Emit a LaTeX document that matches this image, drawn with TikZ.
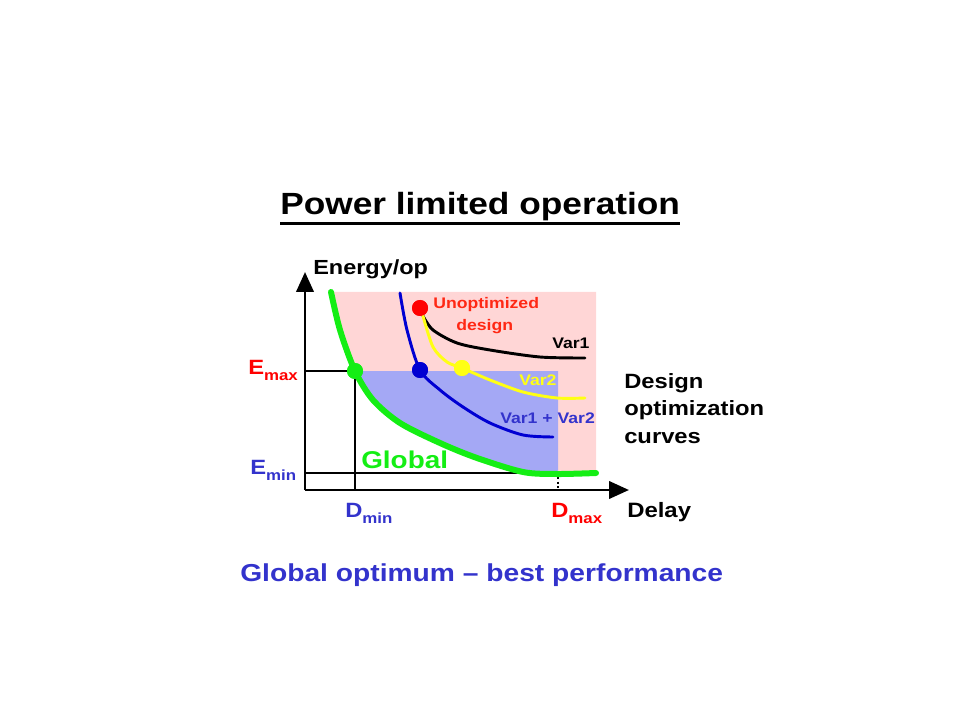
\documentclass[tikz,border=0pt]{standalone}
\usepackage{fontspec}
\setmainfont[FakeStretch=1.15]{Liberation Sans}
\usetikzlibrary{arrows.meta}

\definecolor{pinkarea}{RGB}{255,214,214}
\definecolor{bluearea}{RGB}{164,168,245}
\definecolor{curvegreen}{RGB}{20,238,20}
\definecolor{curveblue}{RGB}{0,0,210}
\definecolor{curveyellow}{RGB}{255,255,20}
\definecolor{textblue}{RGB}{51,51,204}
\definecolor{textred}{RGB}{255,0,0}
\definecolor{textorange}{RGB}{255,40,20}

\newcommand{\lowidx}[1]{\raisebox{-4.5pt}{\fontsize{11}{11}\selectfont #1}}

\begin{document}
\begin{tikzpicture}[x=0.75pt, y=-0.75pt, font=\bfseries,
    lbl/.style={inner sep=0pt, anchor=base west},
    dot/.style={circle, inner sep=0pt, minimum size=12pt},
    guide/.style={line width=1.5pt},
    axis/.style={line width=2.2pt, -{Triangle[length=15pt, width=13pt]}},
    curve/.style={line width=2.2pt, line cap=round}]
    \useasboundingbox (0,0) rectangle (960,720);

    % Title
    \node[lbl, font=\bfseries\fontsize{23}{23}\selectfont] (title) at (280,215) {Power limited operation};
    \draw[line width=2.2pt] ([yshift=-6.7pt]title.base west) -- ([yshift=-6.7pt]title.base east);

    % Regions above the global curve
    \fill[pinkarea] plot[smooth] coordinates {(331,292) (340,330) (355,371) (373,400) (400,423) (440,443) (477,458) (523,472) (557,474) (596,473)} -- (596,292) -- cycle;
    \begin{scope}
        \clip (355,371) rectangle (558,480);
        \fill[bluearea] plot[smooth] coordinates {(331,292) (340,330) (355,371) (373,400) (400,423) (440,443) (477,458) (523,472) (557,474) (596,473)} -- (596,292) -- cycle;
    \end{scope}

    % Axes
    \coordinate (origin) at (305,490);
    \coordinate (ytip) at (305,272);
    \coordinate (xtip) at (629,490);
    \draw[axis] (origin) -- (ytip);
    \draw[axis] (origin) -- (xtip);
    \node[lbl, font=\bfseries\fontsize{15.3}{15.3}\selectfont] (energy) at (313,275) {Energy/op};
    \node[lbl, font=\bfseries\fontsize{15.6}{15.6}\selectfont] (delay) at (627,517) {Delay};

    % Dots
    \foreach \name/\col/\pos in {unopt/textred/{(420,308)}, gdot/curvegreen/{(355,371)},
                                 bdot/curveblue/{(420,370)}, ydot/curveyellow/{(462,368)}} {
        \node[dot, fill=\col] (\name) at \pos {};
    }

    % Limits
    \coordinate (emaxL) at (305,371);
    \coordinate (eminL) at (305,473);
    \coordinate (eminR) at (540,473);
    \coordinate (dminB) at (355,490);
    \coordinate (dmaxT) at (558,477);
    \coordinate (dmaxB) at (558,490);
    \draw[guide] (emaxL) -- (gdot.center);
    \draw[guide] (gdot.center) -- (dminB);
    \draw[guide] (eminL) -- (eminR);
    \draw[guide, dotted] (dmaxT) -- (dmaxB);

    % Design optimization curves
    \draw[curve, black] plot[smooth] coordinates {(423,316) (433,330) (457,343) (490,350) (540,357) (585,358)};
    \draw[curve, curveyellow] plot[smooth] coordinates {(423,316) (433,347) (447,362) (462,368) (490,380) (523,392) (557,398) (585,398)};
    \draw[curve, curveblue] plot[smooth] coordinates {(400,293) (407,330) (420,370) (440,390) (463,407) (490,423) (523,435) (553,437)};
    \draw[line width=4.5pt, curvegreen, line cap=round] plot[smooth] coordinates {(331,292) (340,330) (355,371) (373,400) (400,423) (440,443) (477,458) (523,472) (557,474) (596,473)};

    % Redraw the dots on top
    \foreach \name/\col in {unopt/textred, gdot/curvegreen, bdot/curveblue, ydot/curveyellow} {
        \fill[\col] (\name) circle (6pt);
    }

    % Curve labels
    \node[lbl, textorange, font=\bfseries\fontsize{11.5}{11.5}\selectfont] (unoptlbl) at (433,309) {Unoptimized};
    \node[lbl, textorange, font=\bfseries\fontsize{11.5}{11.5}\selectfont] (designlbl) at (456,330) {design};
    \node[lbl, font=\bfseries\fontsize{11.5}{11.5}\selectfont] (var1) at (552,348) {Var1};
    \node[lbl, curveyellow, font=\bfseries\fontsize{11.5}{11.5}\selectfont] (var2) at (519,385) {Var2};
    \node[lbl, textblue, font=\bfseries\fontsize{11.5}{11.5}\selectfont] (var12) at (500,423) {Var1 + Var2};
    \node[lbl, curvegreen, font=\bfseries\fontsize{18.2}{18.2}\selectfont] (global) at (361,468) {Global};

    % Limit labels
    \node[lbl, textred, font=\bfseries\fontsize{15.5}{15.5}\selectfont] (emax) at (248,374) {E\lowidx{max}};
    \node[lbl, textblue, font=\bfseries\fontsize{15.5}{15.5}\selectfont] (emin) at (250,474) {E\lowidx{min}};
    \node[lbl, textblue, font=\bfseries\fontsize{15.5}{15.5}\selectfont] (dmin) at (345,517) {D\lowidx{min}};
    \node[lbl, textred, font=\bfseries\fontsize{15.5}{15.5}\selectfont] (dmax) at (551,517) {D\lowidx{max}};

    % Side and bottom text
    \node[lbl, align=left, font=\bfseries\fontsize{15.5}{20.6}\selectfont] (designcurves) at (624,443) {Design\\optimization\\curves};
    \node[lbl, textblue, font=\bfseries\fontsize{18.4}{18.4}\selectfont] (summary) at (240,581) {Global optimum -- best performance};
\end{tikzpicture}
\end{document}
